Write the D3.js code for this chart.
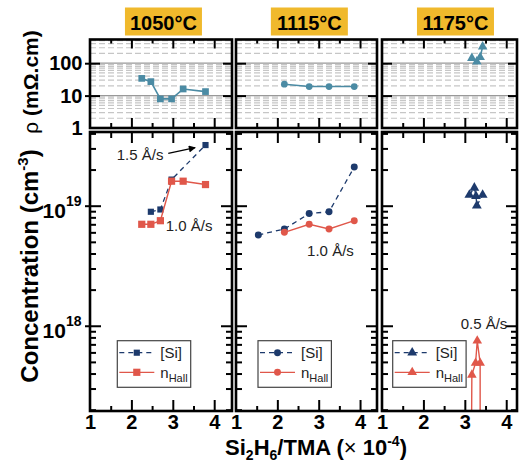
<!DOCTYPE html>
<html><head><meta charset="utf-8">
<script src="https://cdn.jsdelivr.net/npm/d3@7"></script>
<style>
body{margin:0;background:#fff}
svg{display:block}
text{font-family:"Liberation Sans",Arial,Helvetica,sans-serif}
</style>
</head><body>
<svg id="chart" width="523" height="464"></svg>
<script>
// Growth temperatures (one column of panels each)
const temps = ["1050°C", "1115°C", "1175°C"];

// Resistivity ρ (mΩ.cm) vs Si2H6/TMA ratio (×10^-4)
const rho1050X = [2.25, 2.47, 2.70, 2.97, 3.25, 3.79];
const rho1050  = [34, 27, 7.9, 7.9, 16, 13.3];
const rho1115X = [2.17, 2.77, 3.25, 3.86];
const rho1115  = [22.5, 19, 19, 19];
const rho1175X = [3.17, 3.29, 3.37, 3.43];
const rho1175  = [143, 112, 153, 325];

// [Si] concentration from SIMS (cm^-3)
const si1050X = [2.47, 2.70, 2.97, 3.79];
const si1050  = [8.9e18, 9.3e18, 1.65e19, 3.2e19];
const si1115X = [1.54, 2.17, 2.77, 3.25, 3.86];
const si1115  = [5.7e18, 6.4e18, 8.6e18, 8.9e18, 2.1e19];
const si1175X = [3.11, 3.23, 3.27, 3.29, 3.43];
const si1175  = [1.23e19, 1.41e19, 1.2e19, 1.0e19, 1.23e19];

// Hall electron concentration (cm^-3)
const hall1050X = [2.25, 2.47, 2.70, 2.97, 3.25, 3.79];
const hall1050  = [7.0e18, 7.0e18, 7.5e18, 1.6e19, 1.6e19, 1.5e19];
const hall1115X = [2.17, 2.77, 3.25, 3.86];
const hall1115  = [6.0e18, 7.0e18, 6.4e18, 7.5e18];
const hall1175X = [3.16, 3.17, 3.26, 3.30, 3.37, 3.37];
const hall1175  = [1.0e17, 3.9e17, 4.9e17, 7.5e17, 4.9e17, 1.0e17];

// Axis ticks and labels
const xMajor = [1, 2, 3, 4];
const xMinor = [1.5, 2.5, 3.5];
const rhoMajor = [1, 10, 100];
const concMajor = [1e18, 1e19];
const legendNames = ["[Si]", "n"];

const navy = "#1d3a6c", red = "#e0574a", teal = "#4b8ba4", gold = "#f0b92c";

const panels = [
  {t: temps[0], xmax: 4.43, px: [90, 232],  rx: rho1050X, ry: rho1050, sx: si1050X, sy: si1050, hx: hall1050X, hy: hall1050,
   sym: d3.symbolSquare, sz: {n: 38, r: 52, t: 45}, legX: 117.3,
   notes: [{x: 1.645, y: 2.4e19, s: "1.5 Å/s"}, {x: 2.83, y: 6.15e18, s: "1.0 Å/s"}],
   arrow: [[2.89, 2.73e19], [3.54, 3.04e19]]},
  {t: temps[1], xmax: 4.41, px: [236, 377], rx: rho1115X, ry: rho1115, sx: si1115X, sy: si1115, hx: hall1115X, hy: hall1115,
   sym: d3.symbolCircle, sz: {n: 38, r: 38, t: 36}, legX: 258,
   notes: [{x: 2.72, y: 3.81e18, s: "1.0 Å/s"}]},
  {t: temps[2], xmax: 4.26, px: [382, 517], rx: rho1175X, ry: rho1175, sx: si1175X, sy: si1175, hx: hall1175X, hy: hall1175,
   sym: d3.symbolTriangle, sz: {n: 42, r: 40, t: 40}, legX: 392.7,
   notes: [{x: 2.90, y: 9.4e17, s: "0.5 Å/s"}]}
];

const topY = [39.5, 128], botY = [132, 411];
const svg = d3.select("#chart");

const defs = svg.append("defs");
defs.append("marker").attr("id", "arrowHead").attr("viewBox", "0 0 10 10")
  .attr("refX", 9).attr("refY", 5).attr("markerWidth", 9).attr("markerHeight", 7)
  .attr("markerUnits", "userSpaceOnUse").attr("orient", "auto")
  .append("path").attr("d", "M0,0L10,5L0,10Z").attr("fill", "#000");

function styleAxis(g) {
  g.select(".domain").remove();
  g.selectAll(".tick line").attr("stroke", "#000").attr("stroke-width", 2);
  g.attr("font-family", null).attr("font-size", null);
}

panels.forEach((p, i) => {
  const x = d3.scaleLinear().domain([1, p.xmax]).range(p.px);
  const yR = d3.scaleLog().domain([1, 539]).range([topY[1], topY[0]]);
  const yC = d3.scaleLog().domain([1.95e17, 4.11e19]).range([botY[1], botY[0]]);
  const w = p.px[1] - p.px[0];

  // ---------- title box ----------
  const cx = x(2.75) + 1;
  svg.append("rect").attr("x", cx - 38.5).attr("y", 7.5).attr("width", 77).attr("height", 28).attr("fill", gold);
  svg.append("text").attr("x", cx).attr("y", 30).attr("text-anchor", "middle")
    .attr("font-size", 20).attr("font-weight", "bold").text(p.t);

  // ---------- resistivity panel ----------
  const gT = svg.append("g");
  const minorR = [];
  [1, 10, 100].forEach(d => { for (let k = 2; k <= 9; k++) if (d * k <= 539) minorR.push(d * k); });
  gT.selectAll("line.gm").data(minorR).join("line")
    .attr("x1", p.px[0]).attr("x2", p.px[1]).attr("y1", d => yR(d)).attr("y2", d => yR(d))
    .attr("stroke", "#c6c6c6").attr("stroke-width", 1.2).attr("stroke-dasharray", "6,3");
  gT.selectAll("line.gM").data([10, 100]).join("line")
    .attr("x1", p.px[0]).attr("x2", p.px[1]).attr("y1", d => yR(d)).attr("y2", d => yR(d))
    .attr("stroke", "#999").attr("stroke-width", 1.3);

  gT.append("g").attr("transform", `translate(0,${topY[1]})`).call(d3.axisBottom(x).tickValues(xMajor.filter(v => v > 1)).tickSize(-10).tickFormat("")).call(styleAxis);
  gT.append("g").attr("transform", `translate(0,${topY[1]})`).call(d3.axisBottom(x).tickValues(xMinor).tickSize(-5).tickFormat("")).call(styleAxis);
  gT.append("g").attr("transform", `translate(0,${topY[0]})`).call(d3.axisTop(x).tickValues(xMajor.filter(v => v > 1)).tickSize(-9).tickFormat("")).call(styleAxis);
  gT.append("g").attr("transform", `translate(0,${topY[0]})`).call(d3.axisTop(x).tickValues(xMinor).tickSize(-4).tickFormat("")).call(styleAxis);
  gT.append("g").attr("transform", `translate(${p.px[0]},0)`).call(d3.axisLeft(yR).tickValues([10, 100]).tickSize(-10).tickFormat("")).call(styleAxis);
  gT.append("g").attr("transform", `translate(${p.px[1]},0)`).call(d3.axisRight(yR).tickValues([10, 100]).tickSize(-9).tickFormat("")).call(styleAxis);
  if (i === 0) {
    const la = gT.append("g").attr("transform", `translate(${p.px[0]},0)`)
      .call(d3.axisLeft(yR).tickValues(rhoMajor).tickSize(5).tickPadding(2.5).tickFormat(d3.format("d"))).call(styleAxis);
    la.selectAll("text").attr("font-size", 20).attr("font-weight", "bold").attr("fill", "#000");
    la.selectAll(".tick").filter(d => d === 1).select("line").remove();
  }

  const lineR = d3.line().x(d => x(d[0])).y(d => yR(d[1]));
  const rPts = p.rx.map((v, k) => [v, p.ry[k]]);
  gT.append("path").attr("d", lineR(rPts)).attr("fill", "none").attr("stroke", teal).attr("stroke-width", 1.6);
  gT.selectAll("path.m").data(rPts).join("path")
    .attr("transform", d => `translate(${x(d[0])},${yR(d[1])})`)
    .attr("d", d3.symbol(p.sym, p.sz.t)).attr("fill", teal);

  gT.append("rect").attr("x", p.px[0]).attr("y", topY[0]).attr("width", w).attr("height", topY[1] - topY[0])
    .attr("fill", "none").attr("stroke", "#000").attr("stroke-width", 2.6);

  // ---------- concentration panel ----------
  const gB = svg.append("g");
  const clipId = "clip" + i;
  defs.append("clipPath").attr("id", clipId).append("rect")
    .attr("x", p.px[0]).attr("y", botY[0]).attr("width", w).attr("height", botY[1] - botY[0]);

  const minorC = [];
  [1e17, 1e18, 1e19].forEach(d => { for (let k = 2; k <= 9; k++) { const v = d * k; if (v >= 1.95e17 && v <= 4.11e19) minorC.push(v); } });

  gB.append("g").attr("transform", `translate(0,${botY[1]})`).call(d3.axisBottom(x).tickValues(xMajor).tickSize(-11).tickPadding(4).tickFormat(d3.format("d"))).call(styleAxis)
    .call(g => g.selectAll("text").attr("font-size", 20).attr("font-weight", "bold").attr("fill", "#000"))
    .call(g => g.selectAll(".tick").filter(d => d === 1).select("line").remove());
  gB.append("g").attr("transform", `translate(0,${botY[1]})`).call(d3.axisBottom(x).tickValues(xMinor).tickSize(-5).tickFormat("")).call(styleAxis);
  gB.append("g").attr("transform", `translate(0,${botY[0]})`).call(d3.axisTop(x).tickValues(xMajor.filter(v => v > 1)).tickSize(-11).tickFormat("")).call(styleAxis);
  gB.append("g").attr("transform", `translate(0,${botY[0]})`).call(d3.axisTop(x).tickValues(xMinor).tickSize(-6).tickFormat("")).call(styleAxis);
  gB.append("g").attr("transform", `translate(${p.px[0]},0)`).call(d3.axisLeft(yC).tickValues(concMajor).tickSize(-11).tickFormat("")).call(styleAxis);
  if (i === 0) {
    gB.append("g").attr("transform", `translate(${p.px[0]},0)`).call(d3.axisLeft(yC).tickValues(concMajor).tickSize(5).tickFormat("")).call(styleAxis);
    concMajor.forEach(v => {
      const t = gB.append("text").attr("x", 81.5).attr("y", yC(v) + 12.5).attr("text-anchor", "end")
        .attr("font-weight", "bold").attr("font-size", 21);
      t.append("tspan").text("10");
      t.append("tspan").attr("font-size", 14).attr("dy", -12.5).text(String(Math.round(Math.log10(v))));
    });
  }
  gB.append("g").attr("transform", `translate(${p.px[0]},0)`).call(d3.axisLeft(yC).tickValues(minorC).tickSize(-6).tickFormat("")).call(styleAxis);
  gB.append("g").attr("transform", `translate(${p.px[1]},0)`).call(d3.axisRight(yC).tickValues(concMajor).tickSize(-11).tickFormat("")).call(styleAxis);
  gB.append("g").attr("transform", `translate(${p.px[1]},0)`).call(d3.axisRight(yC).tickValues(minorC).tickSize(-6).tickFormat("")).call(styleAxis);

  const data = gB.append("g").attr("clip-path", `url(#${clipId})`);
  const lineC = d3.line().x(d => x(d[0])).y(d => yC(d[1]));
  const sPts = p.sx.map((v, k) => [v, p.sy[k]]);
  const hPts = p.hx.map((v, k) => [v, p.hy[k]]);
  data.append("path").attr("d", lineC(sPts)).attr("fill", "none").attr("stroke", navy).attr("stroke-width", 1.3).attr("stroke-dasharray", "5,4");
  data.selectAll("path.s").data(sPts).join("path").attr("class", "s")
    .attr("transform", d => `translate(${x(d[0])},${yC(d[1])})`).attr("d", d3.symbol(p.sym, p.sz.n)).attr("fill", navy);
  data.append("path").attr("d", lineC(hPts)).attr("fill", "none").attr("stroke", red).attr("stroke-width", 1.4);
  data.selectAll("path.h").data(hPts).join("path").attr("class", "h")
    .attr("transform", d => `translate(${x(d[0])},${yC(d[1])})`).attr("d", d3.symbol(p.sym, p.sz.r)).attr("fill", red);

  // growth-rate notes
  p.notes.forEach(n => {
    gB.append("text").attr("x", x(n.x)).attr("y", yC(n.y)).attr("font-size", 15).attr("fill", "#222").text(n.s);
  });
  if (p.arrow) {
    gB.append("line").attr("x1", x(p.arrow[0][0])).attr("y1", yC(p.arrow[0][1]))
      .attr("x2", x(p.arrow[1][0])).attr("y2", yC(p.arrow[1][1]))
      .attr("stroke", "#000").attr("stroke-width", 1.3).attr("marker-end", "url(#arrowHead)");
  }

  // legend
  const lg = gB.append("g").attr("transform", `translate(${p.legX},340.7)`);
  lg.append("rect").attr("width", 73.4).attr("height", 46.6).attr("fill", "#fff").attr("stroke", "#444").attr("stroke-width", 1.2);
  const rows = [{c: navy, dash: "5,4", sz: p.sz.n, y: 12}, {c: red, dash: null, sz: p.sz.r, y: 31.6}];
  rows.forEach((r, k) => {
    lg.append("line").attr("x1", 2).attr("x2", 37).attr("y1", r.y).attr("y2", r.y)
      .attr("stroke", r.c).attr("stroke-width", 1.3).attr("stroke-dasharray", r.dash);
    lg.append("path").attr("transform", `translate(19.5,${r.y})`).attr("d", d3.symbol(p.sym, r.sz)).attr("fill", r.c);
    const t = lg.append("text").attr("x", 43).attr("y", r.y + 5.5).attr("font-size", 15).attr("fill", "#222");
    t.append("tspan").text(legendNames[k]);
    if (k === 1) t.append("tspan").attr("font-size", 11).attr("dy", 4).text("Hall");
  });

  gB.append("rect").attr("x", p.px[0]).attr("y", botY[0]).attr("width", w).attr("height", botY[1] - botY[0])
    .attr("fill", "none").attr("stroke", "#000").attr("stroke-width", 2.6);
});

// axis titles
const yt1 = svg.append("text").attr("transform", "translate(38,82) rotate(-90)").attr("text-anchor", "middle").attr("font-size", 21);
yt1.append("tspan").text("ρ ");
yt1.append("tspan").attr("font-weight", "bold").text("(mΩ.cm)");

const yt2 = svg.append("text").attr("transform", "translate(38,266) rotate(-90)").attr("text-anchor", "middle")
  .attr("font-size", 24).attr("font-weight", "bold");
yt2.append("tspan").text("Concentration (cm");
yt2.append("tspan").attr("font-size", 15).attr("dy", -10).text("-3");
yt2.append("tspan").attr("dy", 10).text(")");

const xt = svg.append("text").attr("x", 316).attr("y", 455).attr("text-anchor", "middle").attr("font-size", 22).attr("font-weight", "bold");
xt.append("tspan").text("Si");
xt.append("tspan").attr("font-size", 14).attr("dy", 5).text("2");
xt.append("tspan").attr("dy", -5).text("H");
xt.append("tspan").attr("font-size", 14).attr("dy", 5).text("6");
xt.append("tspan").attr("dy", -5).text("/TMA (");
xt.append("tspan").attr("font-weight", "normal").text("× ");
xt.append("tspan").text("10");
xt.append("tspan").attr("font-size", 14).attr("dy", -9).text("-4");
xt.append("tspan").attr("dy", 9).text(")");
</script>
</body></html>
